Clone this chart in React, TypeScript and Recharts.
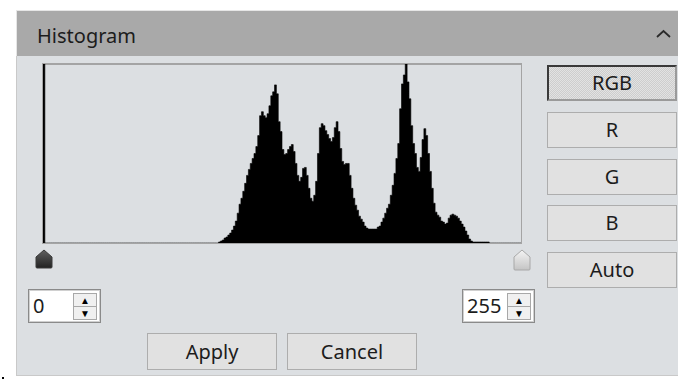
import React from "react";
import { AreaChart, Area, XAxis, YAxis } from "recharts";

// pixel counts per grey level (arbitrary units, 180 = top of box)
const spikeBin = 0;
const spikeCount = 180;
const firstBin = 94;
const counts = [
  1, 2, 3, 5, 6, 8, 10, 13, 17, 22, 30, 39, 45, 52, 60, 68, 74, 80, 85, 90,
  97, 108, 128, 132, 128, 126, 130, 138, 148, 152, 159, 150, 122, 112, 94, 89,
  90, 94, 97, 99, 92, 80, 68, 62, 66, 75, 76, 68, 55, 45, 42, 48, 62, 90, 116,
  120, 118, 113, 109, 105, 102, 106, 116, 122, 112, 95, 82, 79, 80, 80, 68, 55,
  45, 38, 33, 27, 24, 21, 17, 15, 14, 14, 14, 14, 14, 16, 17, 21, 25, 30, 35,
  39, 48, 58, 70, 85, 100, 135, 160, 169, 180, 162, 145, 118, 100, 90, 76, 72,
  86, 104, 115, 108, 90, 72, 55, 40, 31, 28, 26, 22, 21, 19, 20, 25, 28, 29,
  28, 27, 25, 22, 19, 16, 12, 8, 4, 2, 1, 1, 1, 1, 1, 1, 1, 1, 1,
];
const levels = 256;
const channelButtons = ["RGB", "R", "G", "B", "Auto"];
const lowValue = "0";
const highValue = "255";
const actionButtons = ["Apply", "Cancel"];

const data = Array.from({ length: levels + 1 }, (_, bin) => {
  let count = 0;
  if (bin === spikeBin) count = spikeCount;
  const k = bin - firstBin;
  if (k >= 0 && k < counts.length) count = counts[k];
  return { bin, count };
});

const font = "'Noto Sans', 'Open Sans', sans-serif";
const ink = "#1c1c1c";
const panelBg = "#dcdfe2";
const textSize = 20;

function Histogram() {
  return (
    <AreaChart
      width={478}
      height={179}
      data={data}
      margin={{ top: 0, right: 0, left: 0, bottom: 0 }}
    >
      <XAxis dataKey="bin" type="number" domain={[0, levels]} hide />
      <YAxis type="number" domain={[0, spikeCount]} hide />
      <Area
        dataKey="count"
        type="stepAfter"
        fill="#000"
        fillOpacity={1}
        stroke="#000"
        strokeWidth={0.6}
        isAnimationActive={false}
      />
    </AreaChart>
  );
}

function SpinBox({ left, value }: { left: number; value: string }) {
  const half = {
    position: "absolute" as const,
    left: 44,
    width: 24,
    height: 14,
    background: "#f0f0f0",
    border: "1px solid #a8a8a8",
    boxSizing: "border-box" as const,
    fontSize: 10,
    lineHeight: "12px",
    textAlign: "center" as const,
    color: "#000",
  };
  return (
    <div
      style={{
        position: "absolute",
        left,
        top: 289,
        width: 73,
        height: 34,
        background: "#fff",
        border: "1px solid #8a8a8a",
        boxShadow: "inset 0 0 0 1px #d0d0d0",
        boxSizing: "border-box",
      }}
    >
      <div
        style={{
          position: "absolute",
          left: 4,
          top: 0,
          lineHeight: "32px",
          fontSize: textSize,
          color: ink,
        }}
      >
        {value}
      </div>
      <div style={{ ...half, top: 3 }}>▲</div>
      <div style={{ ...half, top: 16 }}>▼</div>
    </div>
  );
}

export default function App() {
  return (
    <div
      style={{
        position: "absolute",
        left: 0,
        top: 0,
        width: 678,
        height: 380,
        background: "#fff",
        fontFamily: font,
        overflow: "hidden",
      }}
    >
      {/* panel */}
      <div
        style={{
          position: "absolute",
          left: 16,
          top: 10,
          width: 670,
          height: 366,
          background: panelBg,
          border: "1px solid #c9c9c9",
          boxSizing: "border-box",
        }}
      />
      {/* header */}
      <div
        style={{
          position: "absolute",
          left: 16,
          top: 10,
          width: 670,
          height: 46,
          background: "#a9a9a9",
          borderTop: "1px solid #e6e6e6",
          borderLeft: "1px solid #e6e6e6",
          boxSizing: "border-box",
        }}
      />
      <div
        style={{
          position: "absolute",
          left: 37,
          top: 22,
          fontSize: textSize,
          lineHeight: "28px",
          color: ink,
        }}
      >
        Histogram
      </div>
      <svg
        style={{ position: "absolute", left: 655, top: 28 }}
        width={18}
        height={12}
      >
        <polyline
          points="2,9 8.5,3 15,9"
          fill="none"
          stroke="#2a2a2a"
          strokeWidth={1.8}
        />
      </svg>

      {/* histogram box */}
      <div
        style={{
          position: "absolute",
          left: 42,
          top: 63,
          width: 480,
          height: 181,
          border: "1px solid #a4a4a4",
          borderTopWidth: 2,
          boxSizing: "border-box",
        }}
      />
      <div style={{ position: "absolute", left: 43, top: 64 }}>
        <Histogram />
      </div>

      {/* level sliders */}
      <svg style={{ position: "absolute", left: 34, top: 248 }} width={20} height={23}>
        <defs>
          <linearGradient id="darkKnob" x1="0" y1="0" x2="0" y2="1">
            <stop offset="0" stopColor="#606060" />
            <stop offset="1" stopColor="#222" />
          </linearGradient>
        </defs>
        <path
          d="M10,2 L18,9 L18,19 Q18,20 17,20 L3,20 Q2,20 2,19 L2,9 Z"
          fill="url(#darkKnob)"
          stroke="#3a3a3a"
        />
      </svg>
      <svg style={{ position: "absolute", left: 512, top: 248 }} width={20} height={24}>
        <defs>
          <linearGradient id="lightKnob" x1="0" y1="0" x2="0" y2="1">
            <stop offset="0" stopColor="#f4f4f4" />
            <stop offset="1" stopColor="#c4c4c4" />
          </linearGradient>
        </defs>
        <path
          d="M10,2 L18,9 L18,21 Q18,22 17,22 L3,22 Q2,22 2,21 L2,9 Z"
          fill="url(#lightKnob)"
          stroke="#a8a8a8"
        />
      </svg>

      <SpinBox left={28} value={lowValue} />
      <SpinBox left={462} value={highValue} />

      {/* channel buttons */}
      {channelButtons.map((label, i) => {
        const selected = i === 0;
        return (
          <div
            key={label}
            style={{
              position: "absolute",
              left: 547,
              top: 65 + i * 46.75,
              width: 130,
              height: 36,
              boxSizing: "border-box",
              background: selected
                ? "repeating-conic-gradient(#cdcdcd 0% 25%, #e2e2e2 0% 50%) 0 0 / 2px 2px"
                : "#e1e1e1",
              border: selected ? "2px solid #9a9a9a" : "1px solid #adadad",
              borderTopColor: selected ? "#3a3a3a" : "#adadad",
              borderLeftColor: selected ? "#3a3a3a" : "#adadad",
              textAlign: "center",
              lineHeight: selected ? "32px" : "34px",
              fontSize: textSize,
              color: ink,
            }}
          >
            {label}
          </div>
        );
      })}

      {/* action buttons */}
      {actionButtons.map((label, i) => (
        <div
          key={label}
          style={{
            position: "absolute",
            left: 147 + i * 140,
            top: 333,
            width: 130,
            height: 37,
            boxSizing: "border-box",
            background: "#e1e1e1",
            border: "1px solid #adadad",
            textAlign: "center",
            lineHeight: "35px",
            fontSize: textSize,
            color: ink,
          }}
        >
          {label}
        </div>
      ))}

      <div
        style={{
          position: "absolute",
          left: 2,
          top: 377,
          width: 2,
          height: 2,
          background: "#000",
        }}
      />
    </div>
  );
}
